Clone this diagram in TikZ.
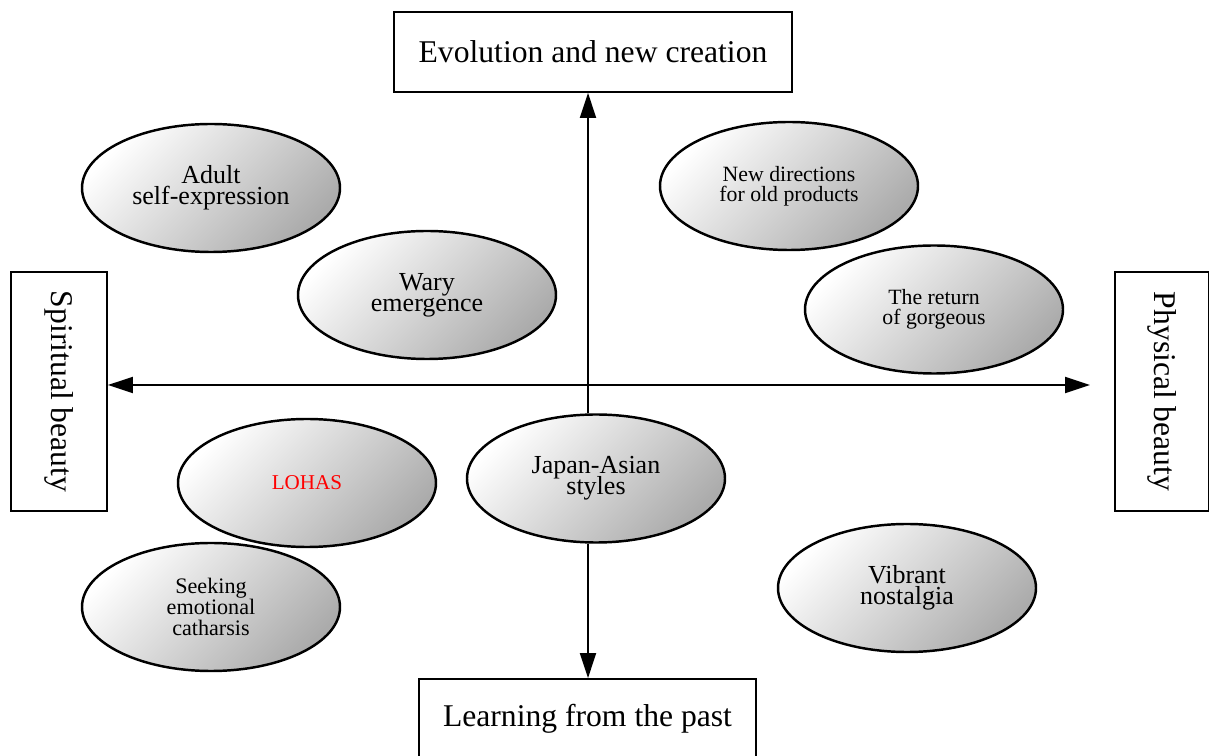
\documentclass[tikz,border=0pt]{standalone}
\usepackage{fontspec}
\setmainfont{Liberation Serif}
\usetikzlibrary{arrows.meta,positioning,shapes.geometric}
\newcommand\tightlines{\lineskiplimit=-20pt\relax}

\begin{document}
\begin{tikzpicture}[
    >={Triangle[length=2.5mm,width=1.6mm]},
    axisbox/.style={draw,line width=0.5pt,fill=white,inner sep=0pt,font=\fontsize{9}{10}\selectfont},
    oval/.style={ellipse,draw,line width=0.7pt,minimum width=2.58cm,minimum height=1.28cm,
      inner sep=0pt,align=center,top color=white,bottom color=black!33,shading angle=45},
    bigtext/.style={font=\fontsize{7.4}{6}\selectfont\tightlines},
    smalltext/.style={font=\fontsize{6.2}{5.7}\selectfont\tightlines},
    axisline/.style={line width=0.55pt}
  ]
      \useasboundingbox (0,0) rectangle (12.09,7.56);
      \coordinate (o) at (5.88,3.71);
      \coordinate (pend) at (10.90,3.71);
      % the four poles
      \node[axisbox,minimum width=3.98cm,minimum height=0.80cm] (evol) at (5.93,7.04) {Evolution and new creation};
      \node[axisbox,minimum width=3.37cm,minimum height=0.80cm] (learn) at (5.875,0.37) {Learning from the past};
      \node[axisbox,rotate=-90,minimum width=2.39cm,minimum height=0.96cm] (spirit) at (0.59,3.645) {Spiritual beauty};
      \node[axisbox,rotate=-90,minimum width=2.39cm,minimum height=0.94cm] (phys) at (11.62,3.645) {Physical beauty};
      % the trends
      \node[oval,bigtext] (adult) at (2.11,5.68) {Adult\\self-expression};
      \node[oval,bigtext] (wary) at (4.27,4.61) {Wary\\emergence};
      \node[oval,smalltext] (newdir) at (7.89,5.70) {New directions\\for old products};
      \node[oval,smalltext] (gorgeous) at (9.34,4.465) {The return\\of gorgeous};
      \node[oval,font=\fontsize{6}{7}\selectfont,text=red] (lohas) at (3.07,2.73) {LOHAS};
      \node[oval,bigtext] (japan) at (5.96,2.775) {Japan-Asian\\styles};
      \node[oval,font=\fontsize{6.3}{5.9}\selectfont\tightlines] (seeking) at (2.11,1.49) {Seeking\\emotional\\catharsis};
      \node[oval,bigtext] (vibrant) at (9.07,1.68) {Vibrant\\nostalgia};
      % axes
      \draw[axisline,<->] (spirit.north |- o) -- (pend);
      \draw[axisline,->] (o |- japan.north) -- (o |- evol.south);
      \draw[axisline,->] (o |- japan.south) -- (o |- learn.north);
\end{tikzpicture}
\end{document}
